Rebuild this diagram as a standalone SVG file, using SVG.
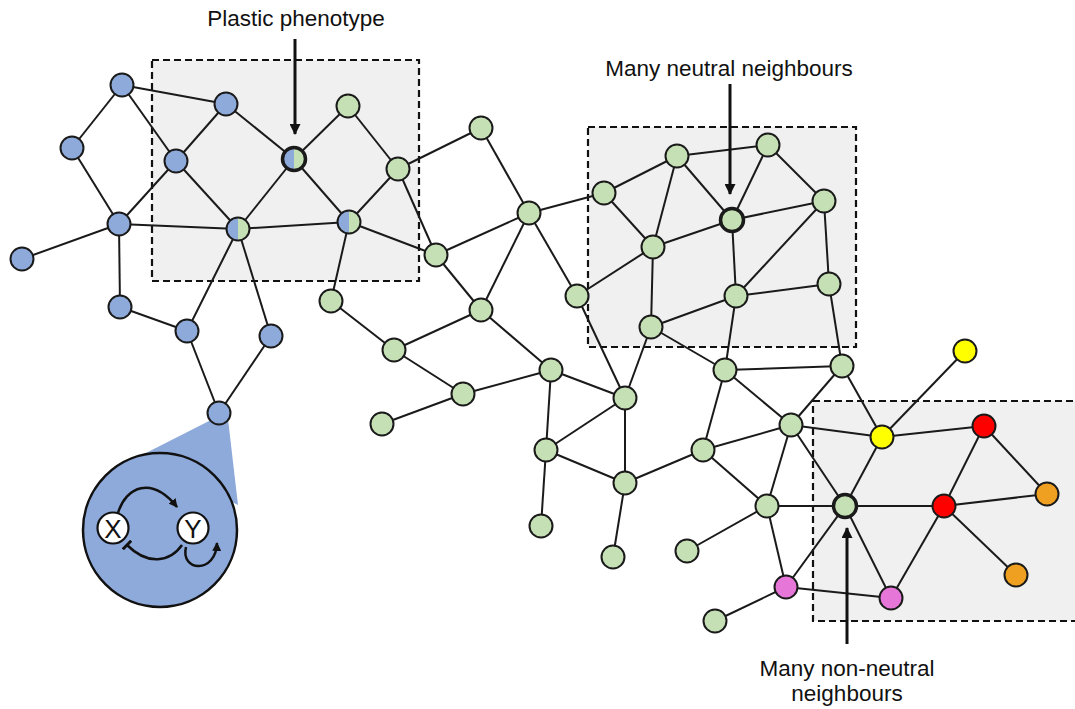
<svg xmlns="http://www.w3.org/2000/svg" width="1075" height="709" viewBox="0 0 1075 709">
<defs>
<style>
.box{fill:#f0f0f0;stroke:#111;stroke-width:2.2;stroke-dasharray:7 4}
.e line{stroke:#1a1a1a;stroke-width:2}
.n{stroke:#1a1a1a;stroke-width:2}
.b{fill:#8eaadb}.g{fill:#c5e0b4}.y{fill:#ffff00}.r{fill:#ff0000}.o{fill:#f0a020}.p{fill:#e676d8}
.thick{stroke-width:3.5}
.lbl{font-family:"Liberation Sans",Arial,sans-serif;font-size:22.5px;fill:#111;text-anchor:middle}
.ptr{stroke:#111;stroke-width:3;fill:none}
.gl{font-family:"Liberation Sans",Arial,sans-serif;font-size:26px;fill:#111;text-anchor:middle}
</style>
<marker id="ah" markerWidth="11" markerHeight="11" refX="10" refY="5.5" orient="auto" markerUnits="userSpaceOnUse" viewBox="0 0 11 11"><path d="M0,0 L11,5.5 L0,11 Z" fill="#111"/></marker>
<marker id="sah" markerWidth="9" markerHeight="9" refX="8" refY="4.5" orient="auto" markerUnits="userSpaceOnUse" viewBox="0 0 9 9"><path d="M0,0 L9,4.5 L0,9 Z" fill="#111"/></marker>
<marker id="tb" markerWidth="4" markerHeight="12" refX="2" refY="6" orient="auto" markerUnits="userSpaceOnUse" viewBox="0 0 4 12"><rect x="0.5" y="0" width="3" height="12" fill="#111"/></marker>
</defs>
<rect width="1075" height="709" fill="#ffffff"/>
<g id="regions">
<rect class="box" x="152" y="60" width="267" height="221"/>
<rect class="box" x="588" y="127" width="268" height="220"/>
<rect class="box" x="813" y="401" width="270" height="220"/>
</g>
<g id="inset">
<polygon points="211,420 228,419 238,505 140,456" fill="#8eaadb"/>
<circle cx="160" cy="530" r="77" fill="#8eaadb" stroke="#111" stroke-width="2.5"/>
<path d="M118,513 C126,486 152,476 177,507" fill="none" stroke="#111" stroke-width="2.5" marker-end="url(#sah)"/>
<path d="M182,545 C170,562 148,566 127,545" fill="none" stroke="#111" stroke-width="2.5" marker-end="url(#tb)"/>
<path d="M186,547 C180,572 216,574 217,543" fill="none" stroke="#111" stroke-width="2.5" marker-end="url(#sah)"/>
<circle cx="113" cy="528" r="15.5" fill="#fff" stroke="#111" stroke-width="2.2"/>
<circle cx="193" cy="528" r="15.5" fill="#fff" stroke="#111" stroke-width="2.2"/>
<text class="gl" x="113" y="537.5">X</text>
<text class="gl" x="193" y="537.5">Y</text>
</g>
<g id="connectors" class="e">
<line x1="122" y1="85" x2="226" y2="104"/><line x1="122" y1="85" x2="72" y2="148"/><line x1="122" y1="85" x2="176" y2="161"/>
<line x1="226" y1="104" x2="176" y2="161"/><line x1="226" y1="104" x2="294" y2="159"/><line x1="72" y1="148" x2="119" y2="224"/>
<line x1="176" y1="161" x2="119" y2="224"/><line x1="176" y1="161" x2="238" y2="229"/><line x1="119" y1="224" x2="22" y2="259"/>
<line x1="119" y1="224" x2="238" y2="229"/><line x1="119" y1="224" x2="120" y2="307"/><line x1="294" y1="159" x2="238" y2="229"/>
<line x1="294" y1="159" x2="349" y2="222"/><line x1="294" y1="159" x2="348" y2="106"/><line x1="238" y1="229" x2="349" y2="222"/>
<line x1="238" y1="229" x2="187" y2="331"/><line x1="238" y1="229" x2="271" y2="336"/><line x1="120" y1="307" x2="187" y2="331"/>
<line x1="187" y1="331" x2="219" y2="413"/><line x1="271" y1="336" x2="219" y2="413"/>
<line x1="349" y1="222" x2="331" y2="301"/><line x1="348" y1="106" x2="398" y2="169"/><line x1="398" y1="169" x2="349" y2="222"/>
<line x1="398" y1="169" x2="481" y2="128"/><line x1="398" y1="169" x2="436" y2="255"/><line x1="349" y1="222" x2="436" y2="255"/>
<line x1="481" y1="128" x2="529" y2="213"/><line x1="436" y1="255" x2="529" y2="213"/><line x1="436" y1="255" x2="481" y2="310"/>
<line x1="529" y1="213" x2="481" y2="310"/><line x1="529" y1="213" x2="577" y2="296"/><line x1="529" y1="213" x2="604" y2="193"/>
<line x1="331" y1="301" x2="394" y2="350"/><line x1="481" y1="310" x2="394" y2="350"/><line x1="481" y1="310" x2="551" y2="370"/>
<line x1="577" y1="296" x2="653" y2="247"/><line x1="577" y1="296" x2="625" y2="398"/><line x1="651" y1="327" x2="625" y2="398"/>
<line x1="394" y1="350" x2="463" y2="394"/><line x1="463" y1="394" x2="551" y2="370"/><line x1="463" y1="394" x2="382" y2="424"/>
<line x1="551" y1="370" x2="625" y2="398"/><line x1="551" y1="370" x2="546" y2="450"/><line x1="625" y1="398" x2="546" y2="450"/>
<line x1="625" y1="398" x2="625" y2="483"/><line x1="546" y1="450" x2="625" y2="483"/><line x1="546" y1="450" x2="541" y2="526"/>
<line x1="625" y1="483" x2="613" y2="557"/><line x1="625" y1="483" x2="703" y2="450"/>
<line x1="604" y1="193" x2="677" y2="156"/><line x1="604" y1="193" x2="653" y2="247"/><line x1="677" y1="156" x2="768" y2="145"/>
<line x1="677" y1="156" x2="653" y2="247"/><line x1="677" y1="156" x2="732" y2="220"/><line x1="768" y1="145" x2="732" y2="220"/>
<line x1="768" y1="145" x2="824" y2="201"/><line x1="732" y1="220" x2="824" y2="201"/><line x1="732" y1="220" x2="653" y2="247"/>
<line x1="732" y1="220" x2="736" y2="296"/><line x1="824" y1="201" x2="736" y2="296"/><line x1="824" y1="201" x2="829" y2="284"/>
<line x1="653" y1="247" x2="651" y2="327"/><line x1="736" y1="296" x2="829" y2="284"/><line x1="736" y1="296" x2="651" y2="327"/>
<line x1="736" y1="296" x2="725" y2="370"/><line x1="829" y1="284" x2="842" y2="366"/><line x1="651" y1="327" x2="725" y2="370"/>
<line x1="725" y1="370" x2="842" y2="366"/><line x1="725" y1="370" x2="703" y2="450"/><line x1="725" y1="370" x2="791" y2="425"/>
<line x1="842" y1="366" x2="791" y2="425"/><line x1="842" y1="366" x2="882" y2="437"/><line x1="791" y1="425" x2="882" y2="437"/>
<line x1="791" y1="425" x2="703" y2="450"/><line x1="791" y1="425" x2="767" y2="506"/><line x1="791" y1="425" x2="845" y2="506"/>
<line x1="703" y1="450" x2="767" y2="506"/><line x1="767" y1="506" x2="845" y2="506"/><line x1="767" y1="506" x2="687" y2="551"/>
<line x1="767" y1="506" x2="786" y2="587"/><line x1="845" y1="506" x2="882" y2="437"/><line x1="845" y1="506" x2="944" y2="506"/>
<line x1="845" y1="506" x2="786" y2="587"/><line x1="845" y1="506" x2="891" y2="598"/><line x1="882" y1="437" x2="965" y2="351"/>
<line x1="882" y1="437" x2="984" y2="426"/><line x1="984" y1="426" x2="944" y2="506"/><line x1="984" y1="426" x2="1047" y2="494"/>
<line x1="944" y1="506" x2="1047" y2="494"/><line x1="944" y1="506" x2="1016" y2="575"/><line x1="944" y1="506" x2="891" y2="598"/>
<line x1="786" y1="587" x2="891" y2="598"/><line x1="786" y1="587" x2="715" y2="621"/>
</g>
<g id="nodes">
<g id="B1"><circle class="n b" cx="122" cy="85" r="11.5"/></g>
<g id="B2"><circle class="n b" cx="72" cy="148" r="11.5"/></g>
<g id="B3"><circle class="n b" cx="226" cy="104" r="11.5"/></g>
<g id="B4"><circle class="n b" cx="176" cy="161" r="11.5"/></g>
<g id="B5"><circle class="n b" cx="119" cy="224" r="11.5"/></g>
<g id="B6"><circle class="n b" cx="22" cy="259" r="11.5"/></g>
<g id="B7"><circle class="n b" cx="120" cy="307" r="11.5"/></g>
<g id="B8"><circle class="n b" cx="187" cy="331" r="11.5"/></g>
<g id="B9"><circle class="n b" cx="271" cy="336" r="11.5"/></g>
<g id="B10"><circle class="n b" cx="219" cy="413" r="11.5"/></g>
<g id="H1"><circle class="g" cx="294" cy="159" r="11.5"/><path class="b" d="M294,147.5 A11.5,11.5 0 0 0 294,170.5 Z"/><circle class="n thick" cx="294" cy="159" r="11.5" fill="none"/></g>
<g id="H2"><circle class="g" cx="238" cy="229" r="11.5"/><path class="b" d="M238,217.5 A11.5,11.5 0 0 0 238,240.5 Z"/><circle class="n" cx="238" cy="229" r="11.5" fill="none"/></g>
<g id="H3"><circle class="g" cx="349" cy="222" r="11.5"/><path class="b" d="M349,210.5 A11.5,11.5 0 0 0 349,233.5 Z"/><circle class="n" cx="349" cy="222" r="11.5" fill="none"/></g>
<g id="G1"><circle class="n g" cx="348" cy="106" r="11.5"/></g>
<g id="G2"><circle class="n g" cx="398" cy="169" r="11.5"/></g>
<g id="G3"><circle class="n g" cx="481" cy="128" r="11.5"/></g>
<g id="G4"><circle class="n g" cx="436" cy="255" r="11.5"/></g>
<g id="G5"><circle class="n g" cx="529" cy="213" r="11.5"/></g>
<g id="G6"><circle class="n g" cx="331" cy="301" r="11.5"/></g>
<g id="G7"><circle class="n g" cx="481" cy="310" r="11.5"/></g>
<g id="G8"><circle class="n g" cx="577" cy="296" r="11.5"/></g>
<g id="G9"><circle class="n g" cx="394" cy="350" r="11.5"/></g>
<g id="G10"><circle class="n g" cx="551" cy="370" r="11.5"/></g>
<g id="G11"><circle class="n g" cx="463" cy="394" r="11.5"/></g>
<g id="G12"><circle class="n g" cx="382" cy="424" r="11.5"/></g>
<g id="G13"><circle class="n g" cx="625" cy="398" r="11.5"/></g>
<g id="G14"><circle class="n g" cx="546" cy="450" r="11.5"/></g>
<g id="G15"><circle class="n g" cx="625" cy="483" r="11.5"/></g>
<g id="G16"><circle class="n g" cx="541" cy="526" r="11.5"/></g>
<g id="G17"><circle class="n g" cx="613" cy="557" r="11.5"/></g>
<g id="G18"><circle class="n g" cx="604" cy="193" r="11.5"/></g>
<g id="G19"><circle class="n g" cx="677" cy="156" r="11.5"/></g>
<g id="G20"><circle class="n g" cx="768" cy="145" r="11.5"/></g>
<g id="G21"><circle class="n g thick" cx="732" cy="220" r="11.5"/></g>
<g id="G22"><circle class="n g" cx="824" cy="201" r="11.5"/></g>
<g id="G23"><circle class="n g" cx="653" cy="247" r="11.5"/></g>
<g id="G24"><circle class="n g" cx="736" cy="296" r="11.5"/></g>
<g id="G25"><circle class="n g" cx="829" cy="284" r="11.5"/></g>
<g id="G26"><circle class="n g" cx="651" cy="327" r="11.5"/></g>
<g id="G27"><circle class="n g" cx="725" cy="370" r="11.5"/></g>
<g id="G28"><circle class="n g" cx="842" cy="366" r="11.5"/></g>
<g id="G29"><circle class="n g" cx="791" cy="425" r="11.5"/></g>
<g id="G30"><circle class="n g" cx="703" cy="450" r="11.5"/></g>
<g id="G31"><circle class="n g" cx="767" cy="506" r="11.5"/></g>
<g id="G32"><circle class="n g" cx="687" cy="551" r="11.5"/></g>
<g id="G33"><circle class="n g" cx="715" cy="621" r="11.5"/></g>
<g id="G34"><circle class="n g thick" cx="845" cy="506" r="11.5"/></g>
<g id="P1"><circle class="n p" cx="786" cy="587" r="11.5"/></g>
<g id="P2"><circle class="n p" cx="891" cy="598" r="11.5"/></g>
<g id="Y1"><circle class="n y" cx="965" cy="351" r="11.5"/></g>
<g id="Y2"><circle class="n y" cx="882" cy="437" r="11.5"/></g>
<g id="R1"><circle class="n r" cx="984" cy="426" r="11.5"/></g>
<g id="R2"><circle class="n r" cx="944" cy="506" r="11.5"/></g>
<g id="O1"><circle class="n o" cx="1047" cy="494" r="11.5"/></g>
<g id="O2"><circle class="n o" cx="1016" cy="575" r="11.5"/></g>
</g>
<g id="labels">
<text class="lbl" x="296" y="26">Plastic phenotype</text>
<line class="ptr" x1="295" y1="39" x2="295" y2="134" marker-end="url(#ah)"/>
<text class="lbl" x="729" y="76">Many neutral neighbours</text>
<line class="ptr" x1="730" y1="84" x2="730" y2="194" marker-end="url(#ah)"/>
<text class="lbl" x="847" y="676">Many non-neutral</text>
<text class="lbl" x="847" y="701">neighbours</text>
<line class="ptr" x1="847" y1="644" x2="847" y2="528" marker-end="url(#ah)"/>
</g>
</svg>
